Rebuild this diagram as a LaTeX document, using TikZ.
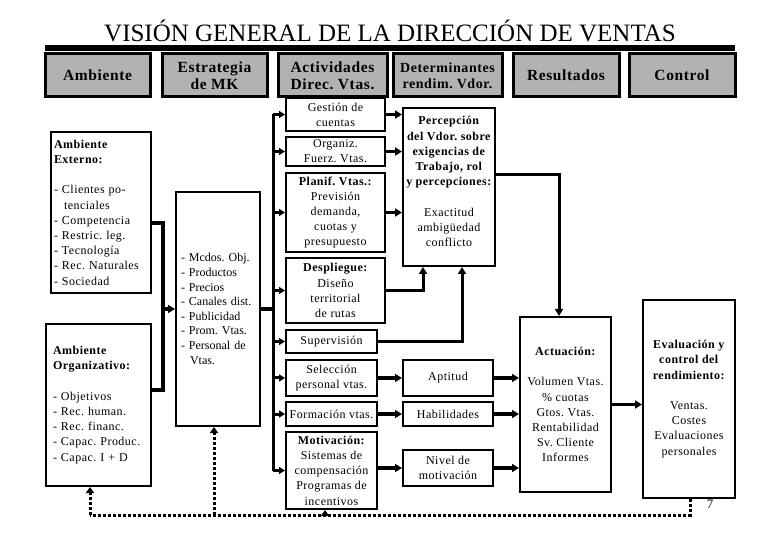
\documentclass[tikz,border=0pt]{standalone}
\usepackage{fontspec}
\setmainfont{Liberation Serif}[LetterSpace=4]
\newfontfamily\plainserif{Liberation Serif}
\frenchspacing
\usetikzlibrary{arrows.meta}
\definecolor{hgrey}{RGB}{178,178,178}
\tikzset{
  hdr/.style={draw, line width=3pt, fill=hgrey, inner sep=0pt, align=center, font=\rmfamily\fontsize{15.5}{17}\selectfont\bfseries},
  box/.style={draw, line width=2pt, fill=white, inner sep=0pt, align=center, font=\rmfamily\fontsize{12}{15.2}\selectfont},
  txt/.style={inner sep=0pt, align=center, font=\rmfamily\fontsize{12}{15.2}\selectfont},
  conn/.style={line width=3.5pt},
  arr/.style={line width=3.5pt, -{Triangle[length=7pt,width=8pt]}},
  bus/.style={line width=3pt},
  busarr/.style={line width=3pt, -{Triangle[length=6pt,width=7pt]}},
  fb/.style={line width=3pt, dash pattern=on 3pt off 2pt},
  fbarr/.style={line width=3pt, dash pattern=on 3pt off 2pt, -{Triangle[length=6pt,width=8pt]}}
}
\begin{document}
\begin{tikzpicture}[x=1pt,y=-1pt]
\useasboundingbox[fill=white] (0,0) rectangle (780,540);

% title and bar
\node[inner sep=0pt, font=\plainserif\fontsize{25}{28}\selectfont] (title) at (390,31) {VISIÓN GENERAL DE LA DIRECCIÓN DE VENTAS};
\fill (45,45) rectangle (735,51);

% headers
\node[hdr, minimum width=105pt, minimum height=43pt] (hAmb) at (97.5,75.5) {Ambiente};
\node[hdr, minimum width=105pt, minimum height=43pt] (hEst) at (214.5,75.5) {Estrategia\\de MK};
\node[hdr, minimum width=109pt, minimum height=43pt] (hAct) at (332.5,75.5) {Actividades\\Direc. Vtas.};
\node[hdr, minimum width=109pt, minimum height=43pt, font=\rmfamily\fontsize{14}{16}\selectfont\bfseries] (hDet) at (447.5,75.5) {Determinantes\\rendim. Vdor.};
\node[hdr, minimum width=106pt, minimum height=43pt] (hRes) at (566,75.5) {Resultados};
\node[hdr, minimum width=106pt, minimum height=43pt] (hCon) at (682,75.5) {Control};

% ambiente
\node[box, minimum width=100pt, minimum height=161pt, align=left, text width=94pt] (ext) at (101,212.5)
 {\textbf{Ambiente}\\\textbf{Externo:}\\[15.2pt]- Clientes po-\\\hspace*{10pt}tenciales\\- Competencia\\- Restric. leg.\\- Tecnología\\- Rec. Naturales\\- Sociedad};
\node[box, minimum width=105pt, minimum height=162pt, align=left, text width=91pt] (org) at (98.5,405)
 {\textbf{Ambiente}\\\textbf{Organizativo:}\\[15.2pt]- Objetivos\\- Rec. human.\\- Rec. financ.\\- Capac. Produc.\\- Capac. I + D};

% estrategia
\node[box, minimum width=84pt, minimum height=234pt, align=left, text width=74pt, font=\plainserif\fontsize{12}{14.6}\selectfont] (mk) at (218,309)
 {- Mcdos. Obj.\\- Productos\\- Precios\\- Canales dist.\\- Publicidad\\- Prom. Vtas.\\- Personal de\\\hspace*{9pt}Vtas.};

% actividades
\node[box, minimum width=99pt, minimum height=33pt] (aGes) at (335.5,114.5) {Gestión de\\cuentas};
\node[box, minimum width=99pt, minimum height=29pt] (aOrg) at (335.5,151.5) {Organiz.\\Fuerz. Vtas.};
\node[box, minimum width=99pt, minimum height=79pt] (aPla) at (335.5,212.5) {\textbf{Planif. Vtas.:}\\Previsión\\demanda,\\cuotas y\\presupuesto};
\node[box, minimum width=99pt, minimum height=65pt] (aDes) at (335.5,290.5) {\textbf{Despliegue:}\\Diseño\\territorial\\de rutas};
\node[box, minimum width=91pt, minimum height=23pt] (aSup) at (331.5,341.5) {Supervisión};
\node[box, minimum width=91pt, minimum height=36pt] (aSel) at (331.5,378) {Selección\\personal vtas.};
\node[box, minimum width=91pt, minimum height=24pt] (aFor) at (331.5,414) {Formación vtas.};
\node[box, minimum width=91pt, minimum height=77pt] (aMot) at (331.5,470.5) {\textbf{Motivación:}\\Sistemas de\\compensación\\Programas de\\incentivos};

% determinantes
\node[box, minimum width=92pt, minimum height=158pt] (per) at (449,187) {};
\node[txt] (perT) at (449,181.5) {\textbf{Percepción}\\\textbf{del Vdor. sobre}\\\textbf{exigencias de}\\\textbf{Trabajo, rol}\\\textbf{y percepciones:}\\[15.2pt]Exactitud\\ambigüedad\\conflicto};
\node[box, minimum width=90pt, minimum height=36pt] (dApt) at (448,378) {Aptitud};
\node[box, minimum width=90pt, minimum height=24pt] (dHab) at (448,414) {Habilidades};
\node[box, minimum width=90pt, minimum height=36pt] (dNiv) at (448,468) {Nivel de\\motivación};

% resultados / control
\node[box, minimum width=91pt, minimum height=175pt] (act) at (565.5,404.5) {\textbf{Actuación:}\\[15.2pt]Volumen Vtas.\\\% cuotas\\Gtos. Vtas.\\Rentabilidad\\Sv. Cliente\\Informes};
\node[box, minimum width=92pt, minimum height=198pt] (eva) at (689,399) {\textbf{Evaluación y}\\\textbf{control del}\\\textbf{rendimiento:}\\[15.2pt]Ventas.\\Costes\\Evaluaciones\\personales};
\node[inner sep=0pt, font=\plainserif\fontsize{13}{15}\selectfont] (pg) at (710,504) {7};

% ambiente -> estrategia
\coordinate (ja) at (163,223);
\coordinate (jb) at (163,390);
\draw[conn] (ext.east |- ja) -- (ja) -- (jb) -- (org.east |- jb);
\draw[arr] (mk.west -| ja) -- (mk.west);

% estrategia -> bus
\coordinate (busT) at (273,114.5);
\coordinate (busB) at (273,470.5);
\draw[bus] (busT) -- (busB);
\draw[conn] (mk.east) -- (mk.east -| busT);
\foreach \n in {aGes,aOrg,aPla,aDes,aSup,aSel,aFor,aMot}
  \draw[busarr] (\n.west -| busT) -- (\n.west);

% actividades -> percepcion
\draw[arr] (aGes.east) -- (aGes.east -| per.west);
\draw[arr] (aOrg.east) -- (aOrg.east -| per.west);
\draw[arr] (aPla.east) -- (aPla.east -| per.west);
\coordinate (pin1) at (423,266);
\coordinate (pin2) at (462,266);
\draw[conn, line width=3pt, -{Triangle[length=7pt,width=8pt]}] (aDes.east) -| (pin1 |- per.south);
\draw[conn, line width=3pt, -{Triangle[length=7pt,width=8pt]}] (aSup.east) -| (pin2 |- per.south);

% percepcion -> actuacion
\coordinate (pout) at (559,175);
\draw[conn, line width=3pt, -{Triangle[length=7pt,width=8pt]}] (per.east |- pout) -| (act.north -| pout);

% actividades -> determinantes
\draw[arr] (aSel.east) -- (dApt.west);
\draw[arr] (aFor.east) -- (dHab.west);
\draw[arr] (aMot.east |- dNiv.west) -- (dNiv.west);

% determinantes -> actuacion
\draw[arr] (dApt.east) -- (dApt.east -| act.west);
\draw[arr] (dHab.east) -- (dHab.east -| act.west);
\draw[arr] (dNiv.east) -- (dNiv.east -| act.west);

% actuacion -> evaluacion
\draw[arr] (act.east) -- (act.east -| eva.west);

% feedback
\coordinate (fbR) at (690,515);
\coordinate (fbL) at (90,515);
\coordinate (fbM) at (214,515);
\coordinate (fbA) at (325,515);
\draw[fb] (fbR |- eva.south) -- (fbR) -- (fbL);
\draw[fbarr] (fbL) -- (fbL |- org.south);
\draw[fbarr] (fbM) -- (fbM |- mk.south);
\draw[fbarr] (fbA) -- (fbA |- aMot.south);
\end{tikzpicture}
\end{document}
